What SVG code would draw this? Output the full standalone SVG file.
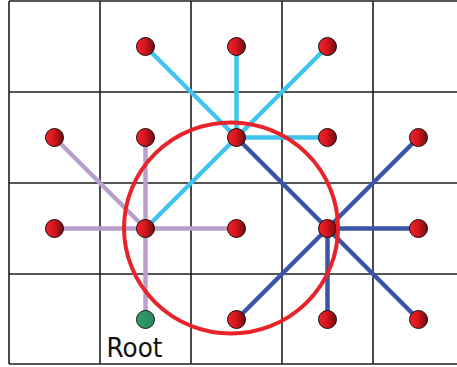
<svg xmlns="http://www.w3.org/2000/svg" width="457" height="367" viewBox="0 0 457 367">
<defs>
<linearGradient id="red" x1="0" y1="0" x2="1" y2="0">
<stop offset="0" stop-color="#f0222a"/>
<stop offset="0.45" stop-color="#d8161e"/>
<stop offset="1" stop-color="#6e0c10"/>
</linearGradient>
<linearGradient id="green" x1="0" y1="0" x2="1" y2="0">
<stop offset="0" stop-color="#2f9d6c"/>
<stop offset="1" stop-color="#2a8a60"/>
</linearGradient>
</defs>
<style>
.grid{stroke:#1e1e1e;stroke-width:1.6;fill:none}
.lb{stroke:#3ec4ef;stroke-width:4.5;fill:none}
.pu{stroke:#b9a0cc;stroke-width:4.5;fill:none}
.db{stroke:#3a55a5;stroke-width:4.5;fill:none}
.n{fill:url(#red);stroke:#1a0a0a;stroke-width:1}
.root{fill:url(#green);stroke:#1a1a1a;stroke-width:1}
.lbl{font-family:"DejaVu Sans",sans-serif;font-size:27px;fill:#111}
</style>
<g id="grid">
<line class="grid" x1="9" y1="1" x2="457" y2="1"/>
<line class="grid" x1="9" y1="92" x2="457" y2="92"/>
<line class="grid" x1="9" y1="183" x2="457" y2="183"/>
<line class="grid" x1="9" y1="274" x2="457" y2="274"/>
<line class="grid" x1="9" y1="364" x2="457" y2="364"/>
<line class="grid" x1="9" y1="1" x2="9" y2="364"/>
<line class="grid" x1="100" y1="1" x2="100" y2="364"/>
<line class="grid" x1="191" y1="1" x2="191" y2="364"/>
<line class="grid" x1="282" y1="1" x2="282" y2="364"/>
<line class="grid" x1="373" y1="1" x2="373" y2="364"/>
</g>
<g id="connectors">
<line class="lb" x1="236.5" y1="137.5" x2="145.5" y2="46.5"/>
<line class="lb" x1="236.5" y1="137.5" x2="236.5" y2="46.5"/>
<line class="lb" x1="236.5" y1="137.5" x2="327.5" y2="46.5"/>
<line class="lb" x1="236.5" y1="137.5" x2="327.5" y2="137.5"/>
<line class="lb" x1="236.5" y1="137.5" x2="145.5" y2="228.5"/>
<line class="pu" x1="145.5" y1="228.5" x2="54.5" y2="137.5"/>
<line class="pu" x1="145.5" y1="228.5" x2="145.5" y2="137.5"/>
<line class="pu" x1="145.5" y1="228.5" x2="54.5" y2="228.5"/>
<line class="pu" x1="145.5" y1="228.5" x2="236.5" y2="228.5"/>
<line class="pu" x1="145.5" y1="228.5" x2="145.5" y2="319.5"/>
<line class="db" x1="327.5" y1="228.5" x2="236.5" y2="137.5"/>
<line class="db" x1="327.5" y1="228.5" x2="418.5" y2="137.5"/>
<line class="db" x1="327.5" y1="228.5" x2="418.5" y2="228.5"/>
<line class="db" x1="327.5" y1="228.5" x2="236.5" y2="319.5"/>
<line class="db" x1="327.5" y1="228.5" x2="327.5" y2="319.5"/>
<line class="db" x1="327.5" y1="228.5" x2="418.5" y2="319.5"/>
</g>
<g id="nodes">
<circle id="n1" class="n" cx="145.5" cy="46.5" r="9"/>
<circle id="n2" class="n" cx="236.5" cy="46.5" r="9"/>
<circle id="n3" class="n" cx="327.5" cy="46.5" r="9"/>
<circle id="n4" class="n" cx="54.5" cy="137.5" r="9"/>
<circle id="n5" class="n" cx="145.5" cy="137.5" r="9"/>
<circle id="n6" class="n" cx="236.5" cy="137.5" r="9"/>
<circle id="n7" class="n" cx="327.5" cy="137.5" r="9"/>
<circle id="n8" class="n" cx="418.5" cy="137.5" r="9"/>
<circle id="n9" class="n" cx="54.5" cy="228.5" r="9"/>
<circle id="n10" class="n" cx="145.5" cy="228.5" r="9"/>
<circle id="n11" class="n" cx="236.5" cy="228.5" r="9"/>
<circle id="n12" class="n" cx="327.5" cy="228.5" r="9"/>
<circle id="n13" class="n" cx="418.5" cy="228.5" r="9"/>
<circle id="n14" class="n" cx="236.5" cy="319.5" r="9"/>
<circle id="n15" class="n" cx="327.5" cy="319.5" r="9"/>
<circle id="n16" class="n" cx="418.5" cy="319.5" r="9"/>
<g id="root">
<circle class="root" cx="145.5" cy="319.5" r="9"/>
<text class="lbl" x="106.5" y="356.5" textLength="56" lengthAdjust="spacingAndGlyphs">Root</text>
</g>
</g>
<g id="range">
<ellipse cx="231" cy="228" rx="107" ry="105.5" fill="none" stroke="#e8232a" stroke-width="4"/>
</g>
</svg>
